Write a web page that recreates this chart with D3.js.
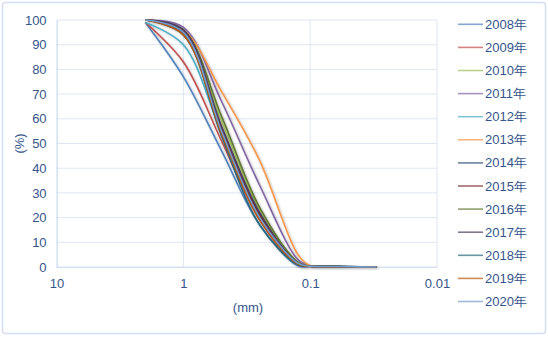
<!DOCTYPE html>
<html>
<head>
<meta charset="utf-8">
<script src="https://cdn.jsdelivr.net/npm/d3@7"></script>
<style>
  body { margin: 0; background: #fff; }
  text { font-family: "Liberation Sans", Arial, sans-serif; fill: #34558b; }
</style>
</head>
<body>
<div id="chart"></div>
<script>
// grain size (mm) and cumulative percent passing, one array per year
var sizes = [2, 1, 0.5, 0.25, 0.125, 0.1, 0.075, 0.05, 0.03];
var years = ["2008年", "2009年", "2010年", "2011年", "2012年", "2013年", "2014年",
             "2015年", "2016年", "2017年", "2018年", "2019年", "2020年"];

var p2008 = [99, 77, 47, 17, 0.5, 0.2, 0.1, 0.1, 0];
var p2009 = [99, 83, 51, 19, 0.8, 0.2, 0.1, 0.1, 0];
var p2010 = [100, 95, 59, 23, 1.5, 0.3, 0.2, 0.1, 0];
var p2011 = [100, 97, 67, 33, 3, 0.4, 0.2, 0.1, 0];
var p2012 = [99, 90, 54, 20, 1.5, 0.3, 0.2, 0.1, 0];
var p2013 = [100, 96, 71, 43, 5, 0.5, 0.2, 0.1, 0];
var p2014 = [100, 95, 55, 21, 1.2, 0.3, 0.3, 0.2, 0];
var p2015 = [100, 95, 56, 21, 1.5, 0.3, 0.2, 0.1, 0];
var p2016 = [100, 96, 61, 24, 2, 0.3, 0.2, 0.1, 0];
var p2017 = [100, 96, 57, 22, 1.5, 0.3, 0.2, 0.1, 0];
var p2018 = [100, 94, 53, 17, 0.8, 0.3, 0.4, 0.2, 0];
var p2019 = [100, 94, 54, 19, 1.2, 0.3, 0.2, 0.1, 0];
var p2020 = [100, 95, 55, 20, 1.5, 0.3, 0.2, 0.1, 0];

var xTicks = [10, 1, 0.1, 0.01];
var xTickLabels = ["10", "1", "0.1", "0.01"];
var yTicks = [0, 10, 20, 30, 40, 50, 60, 70, 80, 90, 100];

var colors = ["#4F81BD", "#C0504D", "#9BBB59", "#8064A2", "#4BACC6", "#F79646",
              "#2C4D75", "#772C2A", "#5F7530", "#4D3B62", "#276A7C", "#B65708", "#729ACA"];

var series = [p2008, p2009, p2010, p2011, p2012, p2013, p2014,
              p2015, p2016, p2017, p2018, p2019, p2020];

var svgWidth = 548;
var svgHeight = 337;

var svg = d3.select("#chart")
  .append("svg")
  .attr("width", svgWidth)
  .attr("height", svgHeight);

var defs = svg.append("defs");
defs.append("filter")
  .attr("id", "shadow")
  .attr("x", "-10%").attr("y", "-10%")
  .attr("width", "120%").attr("height", "120%")
  .append("feDropShadow")
  .attr("dx", 1).attr("dy", 1)
  .attr("stdDeviation", 1)
  .attr("flood-color", "#000")
  .attr("flood-opacity", 0.3);

// outer frame
svg.append("rect")
  .attr("x", 2.5).attr("y", 2.5)
  .attr("width", 543).attr("height", 331)
  .attr("rx", 3)
  .attr("fill", "#fff")
  .attr("stroke", "#d3dff0")
  .attr("stroke-width", 1.5);

// scales
var x = d3.scaleLog()
  .domain([10, 0.01])
  .range([56.6, 437]);

var y = d3.scaleLinear()
  .domain([0, 100])
  .range([267, 20]);

// gridlines
svg.append("g")
  .selectAll("line")
  .data(yTicks)
  .enter()
  .append("line")
  .attr("x1", x(10)).attr("x2", x(0.01))
  .attr("y1", d => y(d)).attr("y2", d => y(d))
  .attr("stroke", "#dde7f4")
  .attr("stroke-width", 1);

svg.append("g")
  .selectAll("line")
  .data(xTicks.slice(1))
  .enter()
  .append("line")
  .attr("x1", d => x(d)).attr("x2", d => x(d))
  .attr("y1", y(0)).attr("y2", y(100))
  .attr("stroke", "#dde7f4")
  .attr("stroke-width", 1);

// axes
var leftAxis = d3.axisLeft(y).tickValues(yTicks).tickSize(0).tickPadding(10);
var bottomAxis = d3.axisBottom(x).tickValues(xTicks).tickSize(0).tickPadding(12)
  .tickFormat((d, i) => xTickLabels[i]);

var gy = svg.append("g")
  .attr("transform", `translate(${x(10)},0)`)
  .call(leftAxis);
gy.select(".domain").attr("stroke", "#bcd0ea");
gy.selectAll("text").attr("font-size", "13px").attr("fill", "#34558b");

var gx = svg.append("g")
  .attr("transform", `translate(0,${y(0)})`)
  .call(bottomAxis);
gx.select(".domain").attr("stroke", "#d3dff0");
gx.selectAll("text").attr("font-size", "13px").attr("fill", "#34558b");

// axis titles
svg.append("text")
  .attr("transform", `translate(24, ${y(50)}) rotate(-90)`)
  .attr("text-anchor", "middle")
  .attr("font-size", "13px")
  .text("(%)");

svg.append("text")
  .attr("x", 248)
  .attr("y", 312)
  .attr("text-anchor", "middle")
  .attr("font-size", "13px")
  .text("(mm)");

// lines
var line = d3.line()
  .x((d, i) => x(sizes[i]))
  .y(d => y(d))
  .curve(d3.curveCatmullRom.alpha(0.5));

svg.append("g")
  .attr("filter", "url(#shadow)")
  .selectAll("path")
  .data(series)
  .enter()
  .append("path")
  .attr("d", d => line(d))
  .attr("fill", "none")
  .attr("stroke", (d, i) => colors[i])
  .attr("stroke-width", 1.6);

// legend
var legend = svg.append("g")
  .selectAll("g")
  .data(years)
  .enter()
  .append("g")
  .attr("transform", (d, i) => `translate(458, ${24.3 + i * 23.1})`);

legend.append("line")
  .attr("x1", 0).attr("x2", 25)
  .attr("stroke", (d, i) => colors[i])
  .attr("stroke-opacity", 0.7)
  .attr("stroke-width", 1.6);

legend.append("text")
  .attr("x", 27)
  .attr("dy", "0.35em")
  .attr("font-size", "13px")
  .text(d => d);
</script>
</body>
</html>
